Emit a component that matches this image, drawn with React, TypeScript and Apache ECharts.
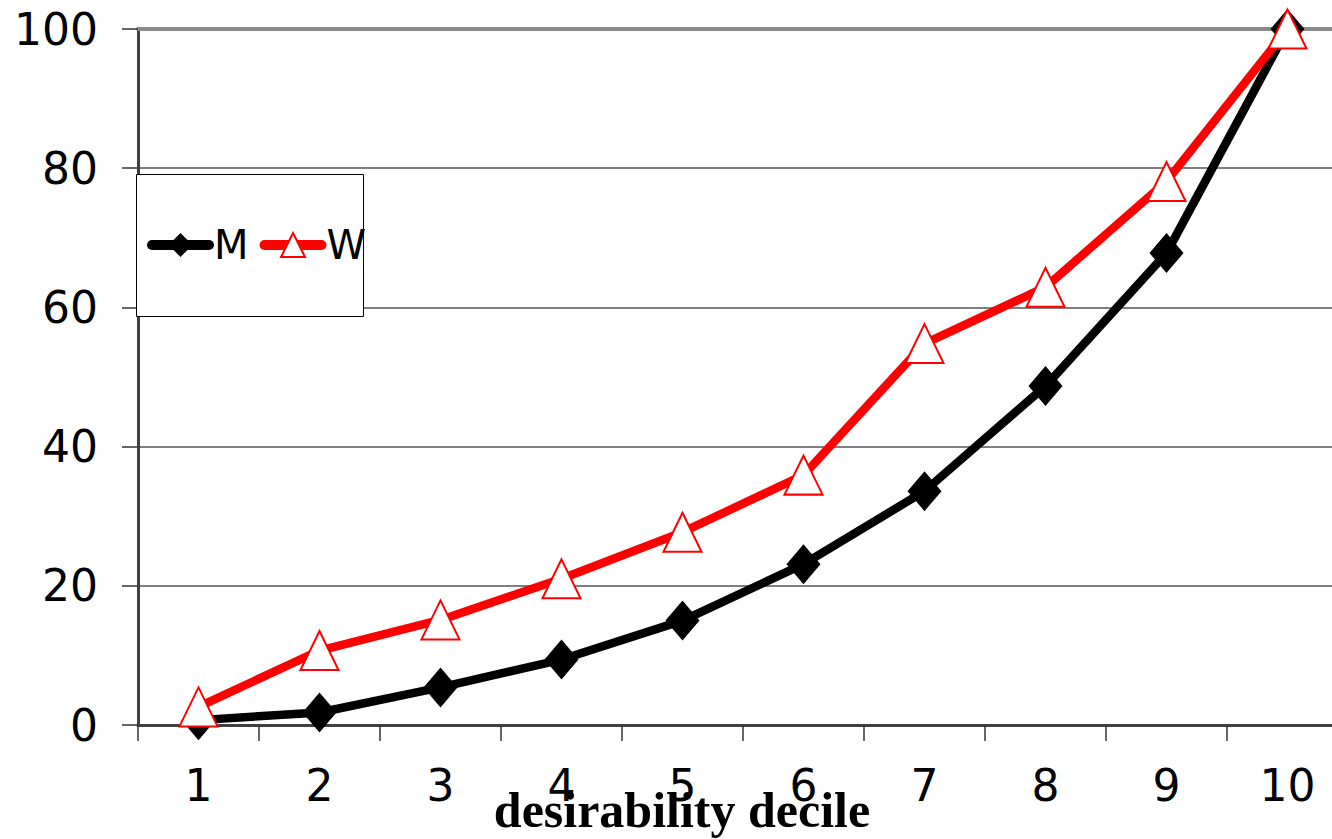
import React, { useEffect, useRef } from "react";
import * as echarts from "echarts";

const categories = ["1", "2", "3", "4", "5", "6", "7", "8", "9", "10"];
const seriesM = [0.7, 1.8, 5.4, 9.4, 15.0, 23.1, 33.6, 48.7, 67.8, 100];
const seriesW = [2.6, 10.7, 15.1, 21.0, 27.7, 35.9, 54.8, 62.9, 78.1, 100];
const seriesNames = ["M", "W"];
const xTitle = "desirability decile";

export default function App() {
  const ref = useRef<HTMLDivElement>(null);

  useEffect(() => {
    if (!ref.current) return;
    const chart = echarts.init(ref.current, undefined, { renderer: "svg" });
    const labelFont = "DejaVu Sans";
    chart.setOption({
      animation: false,
      backgroundColor: "#ffffff",
      grid: { left: 138, top: 29, width: 1210, height: 696, containLabel: false },
      xAxis: [
        {
          type: "category",
          data: categories,
          boundaryGap: true,
          position: "bottom",
          axisLine: { show: true, lineStyle: { color: "#404040", width: 3 } },
          axisTick: { show: true, interval: 0, length: 16, lineStyle: { color: "#333", width: 1.5 } },
          axisLabel: { fontSize: 44, color: "#000", fontFamily: labelFont, margin: 38, interval: 0 },
          splitLine: { show: false },
        },
        {
          type: "category",
          data: categories,
          position: "top",
          axisLine: { show: true, lineStyle: { color: "#8a8a8a", width: 4 } },
          axisTick: { show: false },
          axisLabel: { show: false },
          splitLine: { show: false },
        },
      ],
      yAxis: {
        type: "value",
        min: 0,
        max: 100,
        interval: 20,
        axisLine: { show: true, lineStyle: { color: "#404040", width: 3 } },
        axisTick: { show: true, length: 16, lineStyle: { color: "#333", width: 1.5 } },
        axisLabel: { fontSize: 44, color: "#000", fontFamily: labelFont, margin: 40 },
        splitLine: {
          show: true,
          lineStyle: { color: ["#555", "#555", "#555", "#555", "#555", "#8a8a8a"], width: 1.5 },
        },
      },
      legend: {
        show: true,
        left: 147,
        top: 225,
        z: 10,
        padding: 0,
        itemWidth: 57,
        itemHeight: 30,
        itemGap: 11,
        data: seriesNames,
        lineStyle: { width: 10, cap: "round" },
        textStyle: { fontSize: 40, color: "#000", fontFamily: labelFont },
      },
      graphic: [
        {
          type: "rect",
          z: 5,
          shape: { x: 136.5, y: 174.5, width: 227, height: 142 },
          style: { fill: "#ffffff", stroke: "#000000", lineWidth: 1 },
        },
        {
          type: "text",
          z: 5,
          x: 682,
          y: 810,
          style: {
            text: xTitle,
            font: 'bold 50px "Liberation Serif"',
            fill: "#000",
            textAlign: "center",
            textVerticalAlign: "middle",
          },
        },
      ],
      series: [
        {
          name: seriesNames[0],
          type: "line",
          data: seriesM,
          xAxisIndex: 0,
          symbol: "diamond",
          symbolSize: [34, 40],
          showAllSymbol: true,
          lineStyle: { color: "#000000", width: 8.5, join: "round", cap: "round" },
          itemStyle: { color: "#000000" },
        },
        {
          name: seriesNames[1],
          type: "line",
          data: seriesW,
          xAxisIndex: 0,
          symbol: "triangle",
          symbolSize: [38, 39],
          showAllSymbol: true,
          lineStyle: { color: "#ff0000", width: 8.5, join: "round", cap: "round" },
          itemStyle: { color: "#ffffff", borderColor: "#ff0000", borderWidth: 2 },
        },
      ],
    });
    return () => chart.dispose();
  }, []);

  return (
    <div
      ref={ref}
      style={{ position: "fixed", left: 0, top: 0, width: 1360, height: 839, background: "#fff" }}
    />
  );
}
